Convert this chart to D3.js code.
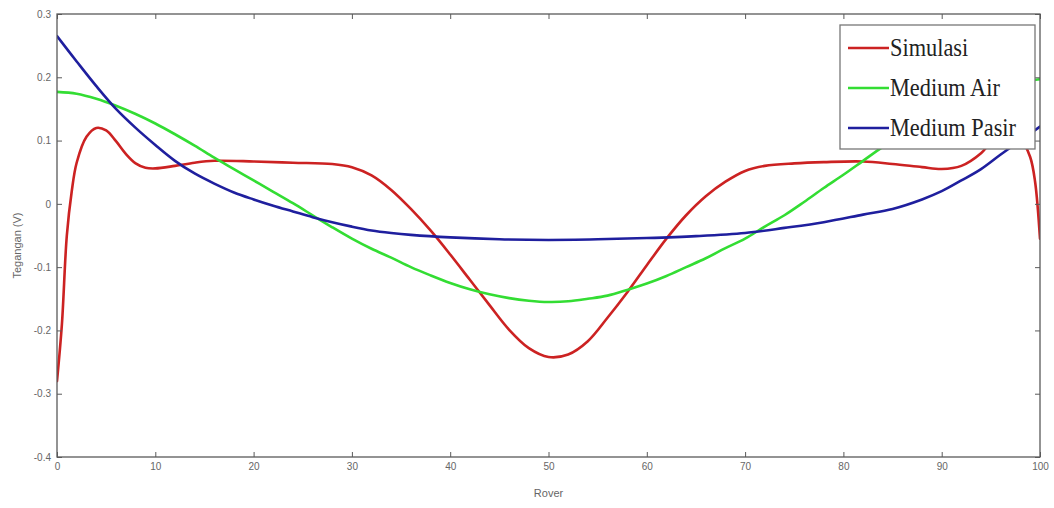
<!DOCTYPE html>
<html>
<head>
<meta charset="utf-8">
<script src="https://cdn.jsdelivr.net/npm/d3@7"></script>
<style>
  html, body { margin: 0; padding: 0; background: #ffffff; }
  svg { display: block; }
</style>
</head>
<body>
<svg id="chart" width="1054" height="508"></svg>
<script>
// ---- data ----
const xTicks = [0, 10, 20, 30, 40, 50, 60, 70, 80, 90, 100];
const yTicks = [-0.4, -0.3, -0.2, -0.1, 0, 0.1, 0.2, 0.3];
const yTickLabels = ["-0.4", "-0.3", "-0.2", "-0.1", "0", "0.1", "0.2", "0.3"];
const seriesNames = ["Simulasi", "Medium Air", "Medium Pasir"];

const simulasiX = [0, 0.5, 1, 1.5, 2, 3, 4, 5, 6, 7, 8, 9, 10, 12, 14, 16, 20, 24, 28, 30, 32, 34, 36, 38, 40, 42, 44, 46, 48, 50, 52, 54, 56, 58, 60, 62, 64, 66, 68, 70, 72, 75, 78, 82, 85, 88, 90, 92, 94, 95, 96, 97, 98, 99, 99.5, 100];
const simulasiY = [-0.28, -0.19, -0.05, 0.02, 0.065, 0.106, 0.12, 0.116, 0.099, 0.079, 0.064, 0.057, 0.056, 0.060, 0.065, 0.068, 0.067, 0.065, 0.063, 0.058, 0.045, 0.022, -0.008, -0.042, -0.08, -0.12, -0.16, -0.199, -0.228, -0.242, -0.238, -0.217, -0.18, -0.14, -0.097, -0.055, -0.018, 0.012, 0.035, 0.052, 0.060, 0.064, 0.066, 0.067, 0.063, 0.058, 0.055, 0.060, 0.080, 0.097, 0.110, 0.114, 0.104, 0.074, 0.035, -0.055];

const airX = [0, 2, 4, 6, 8, 10, 12, 14, 16, 18, 20, 22, 24, 26, 28, 30, 32, 34, 36, 38, 40, 42, 44, 46, 48, 50, 52, 54, 56, 58, 60, 62, 64, 66, 68, 70, 72, 74, 76, 78, 80, 82, 84, 86, 88, 90, 92, 94, 96, 98, 100];
const airY = [0.177, 0.174, 0.166, 0.155, 0.142, 0.127, 0.110, 0.092, 0.073, 0.055, 0.037, 0.019, 0.001, -0.018, -0.037, -0.055, -0.071, -0.085, -0.100, -0.113, -0.125, -0.135, -0.143, -0.149, -0.153, -0.155, -0.154, -0.150, -0.145, -0.136, -0.126, -0.114, -0.100, -0.086, -0.070, -0.055, -0.036, -0.018, 0.003, 0.025, 0.046, 0.068, 0.090, 0.110, 0.130, 0.148, 0.163, 0.176, 0.186, 0.193, 0.197];

const pasirX = [0, 2, 4, 6, 8, 10, 12, 14, 16, 18, 20, 22, 24, 26, 28, 30, 32, 34, 36, 40, 45, 50, 55, 60, 65, 70, 74, 78, 82, 85, 88, 90, 92, 94, 96, 98, 100];
const pasirY = [0.265, 0.225, 0.186, 0.150, 0.120, 0.093, 0.068, 0.048, 0.032, 0.018, 0.007, -0.003, -0.012, -0.021, -0.029, -0.036, -0.042, -0.046, -0.049, -0.053, -0.056, -0.057, -0.056, -0.054, -0.051, -0.046, -0.038, -0.029, -0.017, -0.008, 0.007, 0.020, 0.037, 0.055, 0.078, 0.100, 0.122];

// ---- layout ----
const svg = d3.select("#chart");
const M = { left: 57, right: 1040, top: 14, bottom: 457 };
const x = d3.scaleLinear().domain([0, 100]).range([M.left, M.right]);
const y = d3.scaleLinear().domain([-0.4, 0.3]).range([M.bottom, M.top]);
const colors = ["#cc2222", "#33dd33", "#1f1f9e"];
const axisColor = "#5a5a5a";
const labelColor = "#666";

svg.append("defs").append("clipPath").attr("id", "clip")
  .append("rect").attr("x", M.left).attr("y", M.top)
  .attr("width", M.right - M.left).attr("height", M.bottom - M.top);

// series
const series = [
  simulasiX.map((d, i) => [d, simulasiY[i]]),
  airX.map((d, i) => [d, airY[i]]),
  pasirX.map((d, i) => [d, pasirY[i]])
];
const line = d3.line().x(d => x(d[0])).y(d => y(d[1])).curve(d3.curveCatmullRom.alpha(0.5));
const g = svg.append("g").attr("clip-path", "url(#clip)");
series.forEach((s, i) => {
  g.append("path").datum(s).attr("d", line)
    .attr("fill", "none").attr("stroke", colors[i]).attr("stroke-width", 2.6)
    .attr("stroke-linejoin", "round").attr("stroke-linecap", "round");
});

// axes
function styleAxis(sel, showLabels) {
  sel.select(".domain").remove();
  sel.selectAll(".tick line").attr("stroke", axisColor).attr("stroke-width", 1);
  sel.selectAll(".tick text").attr("fill", labelColor)
    .attr("font-family", "Liberation Sans, Arial, sans-serif").attr("font-size", 10);
  if (!showLabels) sel.selectAll(".tick text").remove();
}
const fmtY = d => yTickLabels[yTicks.indexOf(d)];

svg.append("g").attr("transform", `translate(0,${M.bottom})`)
  .call(d3.axisBottom(x).tickValues(xTicks).tickSize(-5).tickPadding(6))
  .call(s => styleAxis(s, true));
svg.append("g").attr("transform", `translate(0,${M.top})`)
  .call(d3.axisTop(x).tickValues(xTicks).tickSize(-5))
  .call(s => styleAxis(s, false));
svg.append("g").attr("transform", `translate(${M.left},0)`)
  .call(d3.axisLeft(y).tickValues(yTicks).tickFormat(fmtY).tickSize(-5).tickPadding(6))
  .call(s => styleAxis(s, true));
svg.append("g").attr("transform", `translate(${M.right},0)`)
  .call(d3.axisRight(y).tickValues(yTicks).tickSize(-5))
  .call(s => styleAxis(s, false));

svg.append("rect").attr("x", M.left).attr("y", M.top)
  .attr("width", M.right - M.left).attr("height", M.bottom - M.top)
  .attr("fill", "none").attr("stroke", axisColor).attr("stroke-width", 1.3);

// axis titles
svg.append("text").attr("x", x(50)).attr("y", 497).attr("text-anchor", "middle")
  .attr("fill", labelColor).attr("font-family", "Liberation Sans, Arial, sans-serif")
  .attr("font-size", 11).text("Rover");
svg.append("text").attr("transform", `translate(21,${(M.top + M.bottom) / 2 + 10}) rotate(-90)`)
  .attr("text-anchor", "middle").attr("fill", labelColor)
  .attr("font-family", "Liberation Sans, Arial, sans-serif").attr("font-size", 11)
  .text("Tegangan (V)");

// legend
const lg = svg.append("g");
lg.append("rect").attr("x", 840).attr("y", 25).attr("width", 195).attr("height", 124)
  .attr("fill", "#fff").attr("stroke", "#777").attr("stroke-width", 1.3);
seriesNames.forEach((name, i) => {
  const cy = 48 + i * 40;
  lg.append("line").attr("x1", 848).attr("x2", 889).attr("y1", cy).attr("y2", cy)
    .attr("stroke", colors[i]).attr("stroke-width", 2.6);
  lg.append("text").attr("x", 890).attr("y", cy + 8)
    .attr("transform", `translate(${890 * (1 - 0.86)},0) scale(0.86,1)`)
    .attr("font-family", "Liberation Serif, Times New Roman, serif").attr("font-size", 26)
    .attr("fill", "#222").text(name);
});
</script>
</body>
</html>
